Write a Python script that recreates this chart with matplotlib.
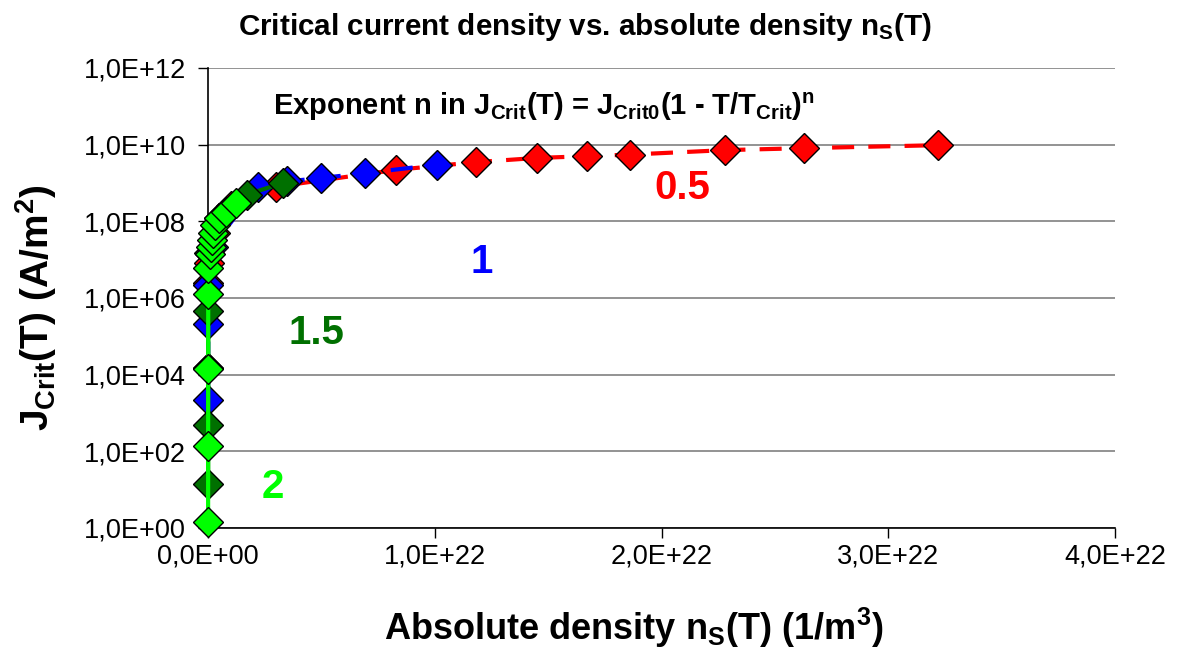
import numpy as np
import matplotlib
matplotlib.use('Agg')
import matplotlib.pyplot as plt
from matplotlib.ticker import FixedLocator, FuncFormatter

plt.rcParams.update({
    'font.family': ['Liberation Sans', 'DejaVu Sans'],
    'mathtext.fontset': 'custom',
    'mathtext.rm': 'Liberation Sans',
    'mathtext.bf': 'Liberation Sans:bold',
    'mathtext.default': 'bf',
})

# series: absolute density n_S (1/m^3) and critical current density (A/m^2)
ns_05 = [5e18, 4e19, 3e20, 1.0e21, 3.0e21, 0.83e22, 1.18e22, 1.45e22, 1.67e22,
         1.86e22, 2.28e22, 2.63e22, 3.22e22]
jc_05 = [2.5e6, 8e6, 5e7, 2.5e8, 8e8, 2.2e9, 3.5e9, 4.5e9, 5.0e9,
         5.5e9, 7.2e9, 8.1e9, 9.7e9]

ns_1 = [2e18, 4e18, 8e18, 1.5e19, 2.0e20, 2.2e21, 3.5e21, 5.0e21, 6.9e21, 1.01e22]
jc_1 = [2.2e3, 1.5e4, 2.1e5, 2.2e6, 2.2e7, 8e8, 1.1e9, 1.35e9, 1.8e9, 3.0e9]

ns_15 = [1e18, 2e18, 4e18, 8e18, 5e19, 5e20, 1.7e21, 3.3e21]
jc_15 = [14, 5e2, 1.5e4, 4.6e5, 1.5e7, 1.2e8, 5e8, 1.0e9]

ns_2 = [1e18, 2e18, 4e18, 6e18, 1.0e19, 9e19, 1.3e20, 1.8e20, 2.2e20,
        3.1e20, 4.8e20, 7.9e20, 1.23e21]
jc_2 = [1.4, 1.4e2, 1.4e4, 1.3e6, 6e6, 1.4e7, 2.1e7, 3.3e7, 5e7,
        8e7, 1.2e8, 1.7e8, 3.0e8]

yticks = [1e0, 1e2, 1e4, 1e6, 1e8, 1e10, 1e12]
xticks = [0, 1e22, 2e22, 3e22, 4e22]

fig = plt.figure(figsize=(11.79, 6.5), dpi=100)
ax = fig.add_axes([0.1765, 0.1877, 0.7692, 0.7077])

ms = 15
dash = (0, (5.3, 3.4))
ax.plot(ns_05, jc_05, color='#FF0000', lw=3, ls=dash, marker='D', ms=ms,
        mfc='#FF0000', mec='black', mew=1.0, clip_on=False, zorder=3)
ax.plot(ns_1, jc_1, color='#0000FF', lw=3, ls=dash, marker='D', ms=ms,
        mfc='#0000FF', mec='black', mew=1.0, clip_on=False, zorder=4)
ax.plot(ns_15, jc_15, color='#007000', lw=3, marker='D', ms=ms,
        mfc='#007000', mec='black', mew=1.0, clip_on=False, zorder=5)
ax.plot(ns_2, jc_2, color='#00FF00', lw=3, marker='D', ms=ms,
        mfc='#00FF00', mec='black', mew=1.0, clip_on=False, zorder=6)

ax.set_yscale('log')
ax.set_ylim(1e0, 1e12)
ax.set_xlim(0, 4e22)
ax.yaxis.set_major_locator(FixedLocator(yticks))
ax.yaxis.set_minor_locator(FixedLocator([]))
ax.xaxis.set_major_locator(FixedLocator(xticks))
fmt = FuncFormatter(lambda v, p: f"{v:.1E}".replace('.', ','))
ax.yaxis.set_major_formatter(fmt)
ax.xaxis.set_major_formatter(fmt)
ax.tick_params(axis='both', labelsize=19.5, direction='out', length=7, width=1)
ax.tick_params(axis='y', pad=9)
ax.tick_params(axis='x', pad=4)

ax.grid(True, axis='y', color='#808080', lw=1.2)
ax.set_axisbelow(True)
ax.spines['top'].set_visible(False)
ax.spines['right'].set_visible(False)
ax.spines['left'].set_linewidth(1.2)
ax.spines['bottom'].set_linewidth(1.2)

fig.text(585 / 1179, 1 - 27 / 650, 'Critical current density vs. absolute density n$_S$(T)',
         ha='center', va='center', fontsize=21.3, fontweight='bold')
fig.text(273 / 1179, 1 - 107 / 650,
         'Exponent n in J$_{Crit}$(T) = J$_{Crit0}$(1 - T/T$_{Crit}$)$^n$',
         ha='left', va='center', fontsize=21, fontweight='bold')

ax.text(2.09e22, 7.4e8, '0.5', color='#FF0000', fontsize=29, fontweight='bold',
        ha='center', va='center')
ax.text(1.205e22, 8.7e6, '1', color='#0000FF', fontsize=29, fontweight='bold',
        ha='center', va='center')
ax.text(0.48e22, 1.2e5, '1.5', color='#007000', fontsize=29, fontweight='bold',
        ha='center', va='center')
ax.text(0.285e22, 12, '2', color='#00FF00', fontsize=29, fontweight='bold',
        ha='center', va='center')

fig.text(634 / 1179, 1 - 628 / 650, 'Absolute density n$_S$(T) (1/m$^3$)',
         ha='center', va='center', fontsize=26, fontweight='bold')
fig.text(36 / 1179, 1 - 308 / 650, 'J$_{Crit}$(T) (A/m$^2$)', rotation=90,
         ha='center', va='center', fontsize=28, fontweight='bold')

fig.savefig('out.png', dpi=100)
